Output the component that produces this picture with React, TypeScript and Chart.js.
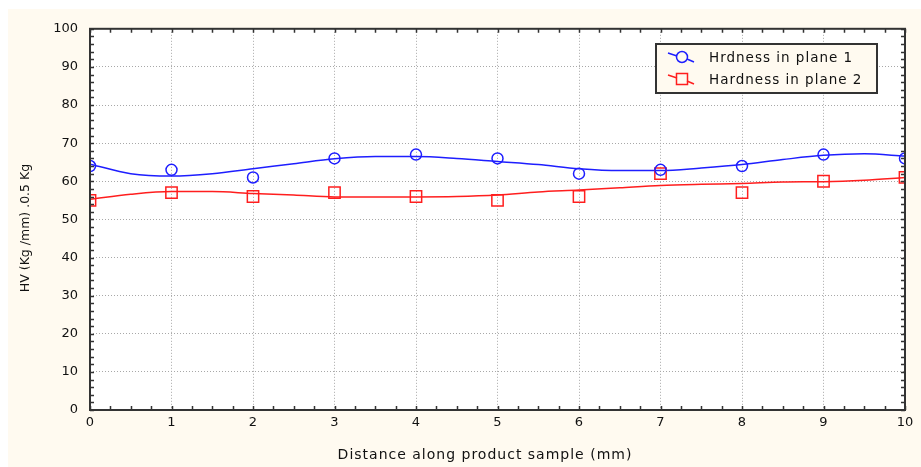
import { useEffect, useRef } from "react";
import { Chart, registerables } from "chart.js";

Chart.register(...registerables);

// ---- data ----
const positions = [0, 1, 2, 3, 4, 5, 6, 7, 8, 9, 10];
const plane1 = [64, 63, 61, 66, 67, 66, 62, 63, 64, 67, 66];
const plane2 = [55, 57, 56, 57, 56, 55, 56, 62, 57, 60, 61];

const fitPositions = [0, 0.5, 1, 1.5, 2, 2.5, 3, 3.5, 4, 4.5, 5, 5.5, 6, 6.5, 7, 7.5, 8, 8.5, 9, 9.5, 10];
const fit1 = [64.5, 62.0, 61.4, 62.0, 63.3, 64.6, 65.9, 66.5, 66.5, 66.0, 65.2, 64.4, 63.3, 62.8, 62.8, 63.5, 64.4, 65.7, 66.8, 67.2, 66.6];
const fit2 = [55.3, 56.6, 57.3, 57.3, 56.8, 56.4, 55.9, 55.9, 55.9, 56.0, 56.4, 57.2, 57.7, 58.3, 58.9, 59.2, 59.4, 59.8, 59.9, 60.3, 61.0];

const seriesLabels = ["Hrdness in plane 1", "Hardness in plane 2"];
const xTitle = "Distance along product sample (mm)";
const yTitle = "HV (Kg /mm) .0.5 Kg";

const BLUE = "rgb(30,30,255)";
const RED = "rgb(255,30,30)";
const CREAM = "#fffaf0";
const FRAME = "#333333";
const TEXT = "#111111";
const FONT = "DejaVu Sans";

const decor = {
  id: "decor",
  beforeDraw(chart: any) {
    const { ctx, width, height, chartArea: a } = chart;
    ctx.save();
    ctx.fillStyle = CREAM;
    ctx.fillRect(0, 0, width, height);
    ctx.fillStyle = "#ffffff";
    ctx.fillRect(a.left, a.top, a.right - a.left, a.bottom - a.top);
    ctx.restore();
  },
  afterDraw(chart: any) {
    const { ctx, chartArea: a } = chart;
    const xs = chart.scales.x;
    const ys = chart.scales.y;
    ctx.save();
    // minor ticks (inside)
    ctx.strokeStyle = FRAME;
    ctx.lineWidth = 1.5;
    ctx.beginPath();
    for (let i = 0; i <= 40; i++) {
      const px = Math.round(xs.getPixelForValue(i / 4)) + 0.5;
      ctx.moveTo(px, a.bottom);
      ctx.lineTo(px, a.bottom - 4);
      ctx.moveTo(px, a.top);
      ctx.lineTo(px, a.top + 4);
    }
    for (let i = 0; i <= 50; i++) {
      const py = Math.round(ys.getPixelForValue(i * 2)) + 0.5;
      ctx.moveTo(a.left, py);
      ctx.lineTo(a.left + 4, py);
      ctx.moveTo(a.right, py);
      ctx.lineTo(a.right - 4, py);
    }
    ctx.stroke();
    // frame
    ctx.lineWidth = 2;
    ctx.strokeRect(a.left, a.top, a.right - a.left, a.bottom - a.top);

    // axis titles
    ctx.fillStyle = TEXT;
    ctx.textAlign = "center";
    ctx.textBaseline = "middle";
    ctx.font = `14px "${FONT}"`;
    (ctx as any).letterSpacing = "1px";
    ctx.fillText(xTitle, 477, 446);
    ctx.save();
    ctx.translate(18, 219);
    ctx.rotate(-Math.PI / 2);
    ctx.font = `12.5px "${FONT}"`;
    (ctx as any).letterSpacing = "0px";
    ctx.fillText(yTitle, 0, 0);
    ctx.restore();

    // legend
    const bx = 648, by = 35, bw = 221, bh = 49;
    ctx.fillStyle = CREAM;
    ctx.fillRect(bx, by, bw, bh);
    ctx.strokeStyle = FRAME;
    ctx.lineWidth = 2;
    ctx.strokeRect(bx, by, bw, bh);
    const items = [
      { label: chart.data.datasets[0].label, color: BLUE, shape: "circle", cy: 49 },
      { label: chart.data.datasets[1].label, color: RED, shape: "rect", cy: 71 },
    ];
    items.forEach((it) => {
      const cx = 674;
      ctx.strokeStyle = it.color;
      ctx.lineWidth = 1.5;
      ctx.beginPath();
      ctx.moveTo(cx - 14, it.cy - 5);
      ctx.lineTo(cx - 5, it.cy - 2);
      ctx.moveTo(cx + 5, it.cy + 1);
      ctx.lineTo(cx + 12, it.cy + 4);
      ctx.stroke();
      ctx.beginPath();
      if (it.shape === "circle") {
        ctx.arc(cx, it.cy - 1, 5.5, 0, Math.PI * 2);
      } else {
        ctx.rect(cx - 5.5, it.cy - 6.5, 11, 11);
      }
      ctx.stroke();
      ctx.fillStyle = TEXT;
      ctx.textAlign = "left";
      ctx.textBaseline = "middle";
      ctx.font = `13.5px "${FONT}"`;
      (ctx as any).letterSpacing = "1px";
      ctx.fillText(it.label, 701, it.cy);
    });
    ctx.restore();
  },
};

export default function App() {
  const ref = useRef<HTMLCanvasElement | null>(null);
  useEffect(() => {
    if (!ref.current) return;
    const chart = new Chart(ref.current, {
      type: "scatter",
      data: {
        datasets: [
          {
            label: seriesLabels[0],
            data: positions.map((x, i) => ({ x, y: plane1[i] })),
            showLine: false,
            pointStyle: "circle",
            pointRadius: 5.5,
            pointBorderWidth: 1.5,
            pointBackgroundColor: "rgba(0,0,0,0)",
            pointBorderColor: BLUE,
            clip: 0,
          },
          {
            label: seriesLabels[1],
            data: positions.map((x, i) => ({ x, y: plane2[i] })),
            showLine: false,
            pointStyle: "rect",
            pointRadius: 8,
            pointBorderWidth: 1.5,
            pointBackgroundColor: "rgba(0,0,0,0)",
            pointBorderColor: RED,
            clip: 0,
          },
          {
            label: "fit1",
            data: fitPositions.map((x, i) => ({ x, y: fit1[i] })),
            showLine: true,
            pointRadius: 0,
            borderColor: BLUE,
            borderWidth: 1.5,
            tension: 0.4,
            cubicInterpolationMode: "monotone",
            clip: 0,
          },
          {
            label: "fit2",
            data: fitPositions.map((x, i) => ({ x, y: fit2[i] })),
            showLine: true,
            pointRadius: 0,
            borderColor: RED,
            borderWidth: 1.5,
            tension: 0.4,
            cubicInterpolationMode: "monotone",
            clip: 0,
          },
        ],
      },
      options: {
        responsive: false,
        animation: false,
        devicePixelRatio: 1,
        layout: { padding: { left: 0, top: 18, right: 16, bottom: 0 } },
        plugins: {
          legend: { display: false },
          tooltip: { enabled: false },
        },
        scales: {
          x: {
            type: "linear",
            min: 0,
            max: 10,
            ticks: {
              stepSize: 1,
              padding: 5,
              color: TEXT,
              font: { family: FONT, size: 13 },
            },
            grid: { color: "#a8a8a8", lineWidth: 1, drawTicks: false },
            border: { display: false, dash: [1, 2] },
            afterFit: (s: any) => {
              s.height = 57;
            },
          },
          y: {
            type: "linear",
            min: 0,
            max: 100,
            ticks: {
              stepSize: 10,
              padding: 12,
              color: TEXT,
              font: { family: FONT, size: 13 },
            },
            grid: { color: "#a8a8a8", lineWidth: 1, drawTicks: false },
            border: { display: false, dash: [1, 2] },
            afterFit: (s: any) => {
              s.width = 82;
            },
          },
        },
      },
      plugins: [decor],
    } as any);
    return () => chart.destroy();
  }, []);
  return (
    <canvas
      ref={ref}
      width={913}
      height={458}
      style={{ position: "absolute", left: 8, top: 9, width: 913, height: 458 }}
    />
  );
}
